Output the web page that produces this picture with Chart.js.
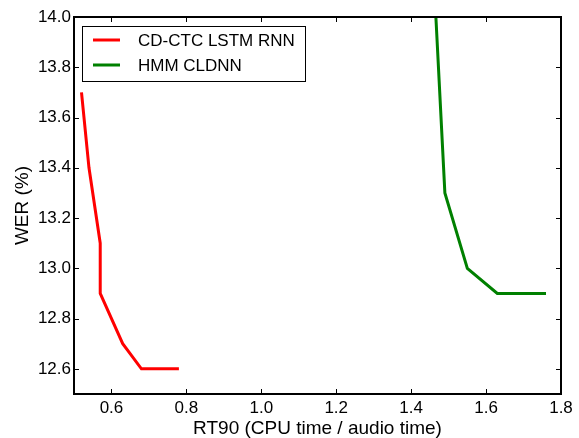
<!DOCTYPE html>
<html>
<head>
<meta charset="utf-8">
<script src="https://cdn.jsdelivr.net/npm/chart.js@4"></script>
<style>
  html, body { margin: 0; padding: 0; background: #fff; }
  #wrap { width: 579px; height: 438px; }
</style>
</head>
<body>
<div id="wrap"><canvas id="c"></canvas></div>
<script>
// données
const ctcRt90 = [0.52, 0.54, 0.57, 0.57, 0.63, 0.68, 0.78];
const ctcWer  = [13.7, 13.4, 13.1, 12.9, 12.7, 12.6, 12.6];
const hmmRt90 = [1.466, 1.49, 1.55, 1.63, 1.76];
const hmmWer  = [14.0, 13.3, 13.0, 12.9, 12.9];
const xTicks = [0.6, 0.8, 1.0, 1.2, 1.4, 1.6, 1.8];
const yTicks = [12.6, 12.8, 13.0, 13.2, 13.4, 13.6, 13.8, 14.0];

const FONT = '"Liberation Sans", Arial, sans-serif';
const toPts = (xs, ys) => xs.map((x, i) => ({ x, y: ys[i] }));

/** cadre + graduations intérieures sur les 4 côtés (style matplotlib) */
const framePlugin = {
  id: 'frame',
  afterDraw(chart) {
    const { ctx, chartArea: a, scales } = chart;
    ctx.save();
    ctx.strokeStyle = '#000';
    ctx.lineWidth = 1;
    ctx.beginPath();
    scales.x.ticks.forEach(t => {
      const px = Math.round(scales.x.getPixelForValue(t.value)) + 0.5;
      ctx.moveTo(px, a.bottom); ctx.lineTo(px, a.bottom - 5);
      ctx.moveTo(px, a.top); ctx.lineTo(px, a.top + 5);
    });
    scales.y.ticks.forEach(t => {
      const py = Math.round(scales.y.getPixelForValue(t.value)) + 0.5;
      ctx.moveTo(a.left, py); ctx.lineTo(a.left + 5, py);
      ctx.moveTo(a.right, py); ctx.lineTo(a.right - 5, py);
    });
    ctx.stroke();
    ctx.lineWidth = 2;
    ctx.strokeRect(a.left, a.top, a.right - a.left, a.bottom - a.top);
    ctx.restore();
  }
};

/** légende encadrée en haut à gauche */
const legendPlugin = {
  id: 'boxLegend',
  afterDraw(chart) {
    const { ctx } = chart;
    const x0 = 82, y0 = 26, w = 223, h = 55;
    ctx.save();
    ctx.fillStyle = '#fff';
    ctx.fillRect(x0, y0, w, h);
    ctx.strokeStyle = '#000';
    ctx.lineWidth = 1;
    ctx.strokeRect(x0 + 0.5, y0 + 0.5, w, h);
    ctx.font = '17px ' + FONT;
    ctx.textBaseline = 'middle';
    chart.data.datasets.forEach((ds, i) => {
      const y = y0 + 14 + i * 25;
      ctx.strokeStyle = ds.borderColor;
      ctx.lineWidth = 3;
      ctx.beginPath();
      ctx.moveTo(x0 + 11, y); ctx.lineTo(x0 + 38, y);
      ctx.stroke();
      ctx.fillStyle = '#000';
      ctx.fillText(ds.label, x0 + 56, y + 1);
    });
    ctx.restore();
  }
};

new Chart(document.getElementById('c'), {
  type: 'scatter',
  data: {
    datasets: [
      {
        label: 'CD-CTC LSTM RNN',
        data: toPts(ctcRt90, ctcWer),
        showLine: true,
        borderColor: '#ff0000',
        borderWidth: 3,
        pointRadius: 0,
        tension: 0
      },
      {
        label: 'HMM CLDNN',
        data: toPts(hmmRt90, hmmWer),
        showLine: true,
        borderColor: '#008000',
        borderWidth: 3,
        pointRadius: 0,
        tension: 0
      }
    ]
  },
  options: {
    responsive: true, maintainAspectRatio: false,
    animation: false,
    layout: { padding: { top: 17, right: 18, left: 0, bottom: 0 } },
    plugins: { legend: { display: false }, tooltip: { enabled: false } },
    scales: {
      x: {
        type: 'linear', min: 0.5, max: 1.8,
        afterBuildTicks: s => { s.ticks = xTicks.map(v => ({ value: v })); },
        afterFit: s => { s.height = 44; },
        grid: { display: false, drawTicks: false },
        border: { display: false },
        ticks: { color: '#000', padding: 4, font: { family: FONT, size: 17 }, callback: v => v.toFixed(1), maxRotation: 0, autoSkip: false },
        title: { display: true, text: 'RT90 (CPU time / audio time)', color: '#000', font: { family: FONT, size: 19, lineHeight: 1 }, padding: { top: 0, bottom: 0 } }
      },
      y: {
        type: 'linear', min: 12.5, max: 14.0,
        afterBuildTicks: s => { s.ticks = yTicks.map(v => ({ value: v })); },
        afterFit: s => { s.width = 74; },
        grid: { display: false, drawTicks: false },
        border: { display: false },
        ticks: { color: '#000', padding: 3, font: { family: FONT, size: 17 }, callback: v => v.toFixed(1), autoSkip: false },
        title: { display: true, text: 'WER (%)', color: '#000', font: { family: FONT, size: 19, lineHeight: 1 }, padding: { top: 13, bottom: 0 } }
      }
    }
  },
  plugins: [framePlugin, legendPlugin]
});
</script>
</body>
</html>
